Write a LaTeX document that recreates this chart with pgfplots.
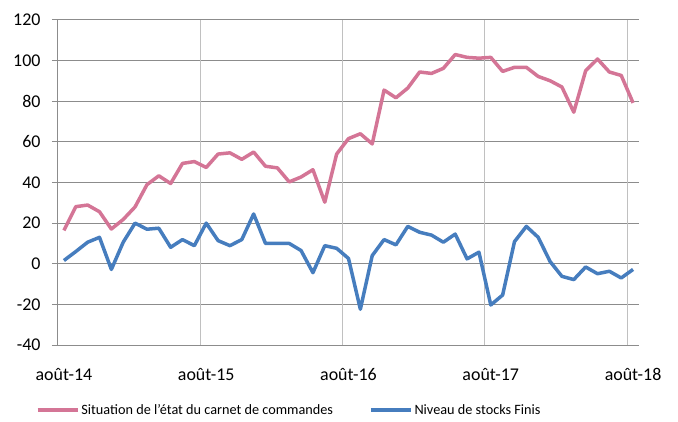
\documentclass[border=0pt]{standalone}
\usepackage{fontspec}
\setmainfont{Carlito}
\usepackage{pgfplots}
\pgfplotsset{compat=1.18}
\definecolor{pinkline}{RGB}{212,117,150}
\definecolor{blueline}{RGB}{70,125,190}
\definecolor{gridh}{RGB}{140,140,140}
\definecolor{gridv}{RGB}{192,192,192}

\begin{document}
\begin{tikzpicture}
\begin{axis}[
  at={(0,0)}, anchor=south west,
  scale only axis, width=581bp, height=325bp,
  xmin=-0.5, xmax=48.5, ymin=-40, ymax=120,
  axis x line=bottom, axis y line=left,
  axis line style={-, draw=gridh, line width=1bp},
  ytick={-40,-20,0,20,40,60,80,100,120},
  yticklabels={-40,-20,0,20,40,60,80,100,120},
  ymajorgrids, major grid style={draw=gridh, line width=1bp},
  tick align=outside, major tick length=6bp,
  y tick style={draw=gridh, line width=1bp},
  y tick label style={xshift=-8bp},
  xtick={0,12,24,36,48},
  xticklabels={août-14,août-15,août-16,août-17,août-18},
  x tick style={draw=none},
  x tick label style={yshift=-14bp},
  extra x ticks={11.5,23.5,35.5,47.5},
  extra x tick labels={},
  extra x tick style={grid=major, major grid style={draw=gridv, line width=1bp}},
  tick label style={font=\fontsize{18}{20}\selectfont},
  legend style={draw=none, at={(0.398,-0.2)}, anchor=center,
    legend columns=2, font=\fontsize{14.3}{16}\selectfont,
    /tikz/every even column/.append style={column sep=34bp}},
  legend image code/.code={\draw[#1] (0bp,0bp) -- (40bp,0bp);},
  every axis plot/.append style={line width=3.5bp, line join=round, no markers},
]
\addplot[pinkline] coordinates {
(0,16.4) (1,28.1) (2,28.9) (3,25.6) (4,17.1) (5,21.8) (6,28) (7,38.9) (8,43.3) (9,39.5)
(10,49.4) (11,50.3) (12,47.4) (13,54) (14,54.6) (15,51.4) (16,55) (17,48) (18,47.2) (19,40.3)
(20,42.7) (21,46.3) (22,30.3) (23,54) (24,61.6) (25,64) (26,59) (27,85.5) (28,81.7) (29,86.5)
(30,94.4) (31,93.7) (32,96.2) (33,103) (34,101.6) (35,101.2) (36,101.6) (37,94.7) (38,96.7) (39,96.7)
(40,92.2) (41,90.1) (42,87) (43,74.6) (44,95) (45,100.8) (46,94.4) (47,92.7) (48,79.2)};
\addlegendentry{Situation de l'état du carnet de commandes}
\addplot[blueline] coordinates {
(0,1.6) (1,6) (2,10.6) (3,13) (4,-2.8) (5,10.6) (6,20) (7,17) (8,17.5) (9,8.1)
(10,11.9) (11,8.9) (12,20) (13,11.4) (14,8.9) (15,11.9) (16,24.5) (17,10) (18,10) (19,10)
(20,6.5) (21,-4.4) (22,8.9) (23,7.6) (24,2.6) (25,-22.4) (26,4) (27,11.9) (28,9.3) (29,18.4)
(30,15.5) (31,14.1) (32,10.6) (33,14.6) (34,2.4) (35,5.7) (36,-20.3) (37,-15.4) (38,10.9) (39,18.4)
(40,13) (41,1.1) (42,-6.2) (43,-7.8) (44,-1.6) (45,-4.9) (46,-3.7) (47,-7) (48,-2.8)};
\addlegendentry{Niveau de stocks Finis}
\end{axis}
\path[use as bounding box] (-58bp,-77bp) rectangle (620bp,345bp);
\end{tikzpicture}
\end{document}
